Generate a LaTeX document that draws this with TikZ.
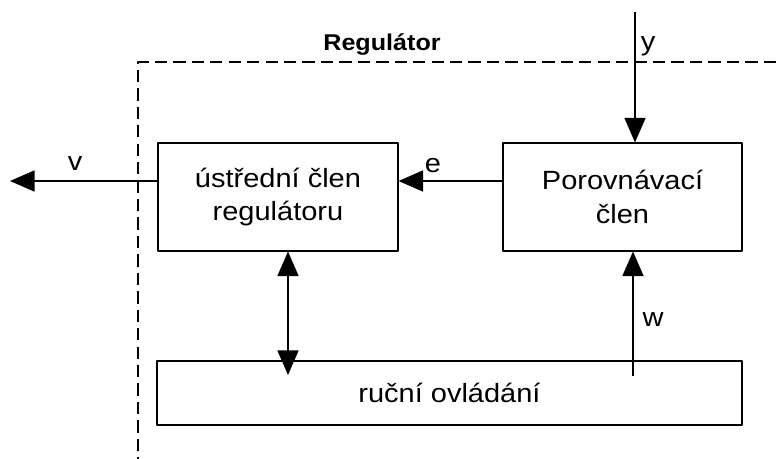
\documentclass[tikz,border=0pt]{standalone}
\usepackage{fontspec}
\setmainfont[FakeStretch=1.1]{Liberation Sans}
\usetikzlibrary{arrows.meta, positioning, calc}

\begin{document}
\begin{tikzpicture}[>={Triangle[length=14pt,width=12pt]}, line join=round,
    blok/.style={draw, line width=0.6pt, align=center, inner sep=0pt,
        font=\fontsize{15}{19.3}\selectfont},
    sipka/.style={->, line width=0.8pt},
    popis/.style={font=\fontsize{15}{18}\selectfont}]
    \useasboundingbox (0,0) rectangle (15.52,-9.18);

    % bloky
    \node[blok, minimum width=4.8cm, minimum height=2.16cm] (ustredni) at (5.56,-3.94) {ústřední člen\\regulátoru};
    \node[blok, minimum width=4.78cm, minimum height=2.16cm] (porovnavaci) at (12.45,-3.94) {Porovnávací\\člen};
    \node[blok, minimum width=11.7cm, minimum height=1.28cm] (rucni) at (8.99,-7.86) {ruční ovládání};

    % hranice regulatoru
    \coordinate (R1) at (15.52,-1.24);
    \coordinate (R2) at (2.76,-1.24);
    \coordinate (R3) at (2.76,-9.18);
    \draw[line width=0.8pt, dash pattern=on 7pt off 3.5pt] (R1) -- (R2) -- (R3);
    \node[font=\fontsize{13}{16}\selectfont\bfseries] (nazev) at (7.64,-0.9) {Regulátor};

    \coordinate (radek) at (0,-3.62);
    \coordinate (vstup) at (12.7,-0.24);
    \coordinate (vystup) at (0.2,-3.62);
    \coordinate (dvoj) at (5.76,-7.5);
    \coordinate (zad) at (12.66,-7.52);

    % signaly
    \draw[sipka] (vstup) -- (vstup |- porovnavaci.north);
    \node[popis] (y) at (12.96,-0.92) {y};
    \draw[sipka] (porovnavaci.west |- radek) -- (ustredni.east |- radek);
    \node[popis] (e) at (8.66,-3.32) {e};
    \draw[sipka] (ustredni.west |- radek) -- (vystup);
    \node[popis] (v) at (1.5,-3.28) {v};
    \draw[sipka, <->] (dvoj |- ustredni.south) -- (dvoj);
    \draw[sipka] (zad) -- (zad |- porovnavaci.south);
    \node[popis] (w) at (13.06,-6.4) {w};
\end{tikzpicture}
\end{document}
